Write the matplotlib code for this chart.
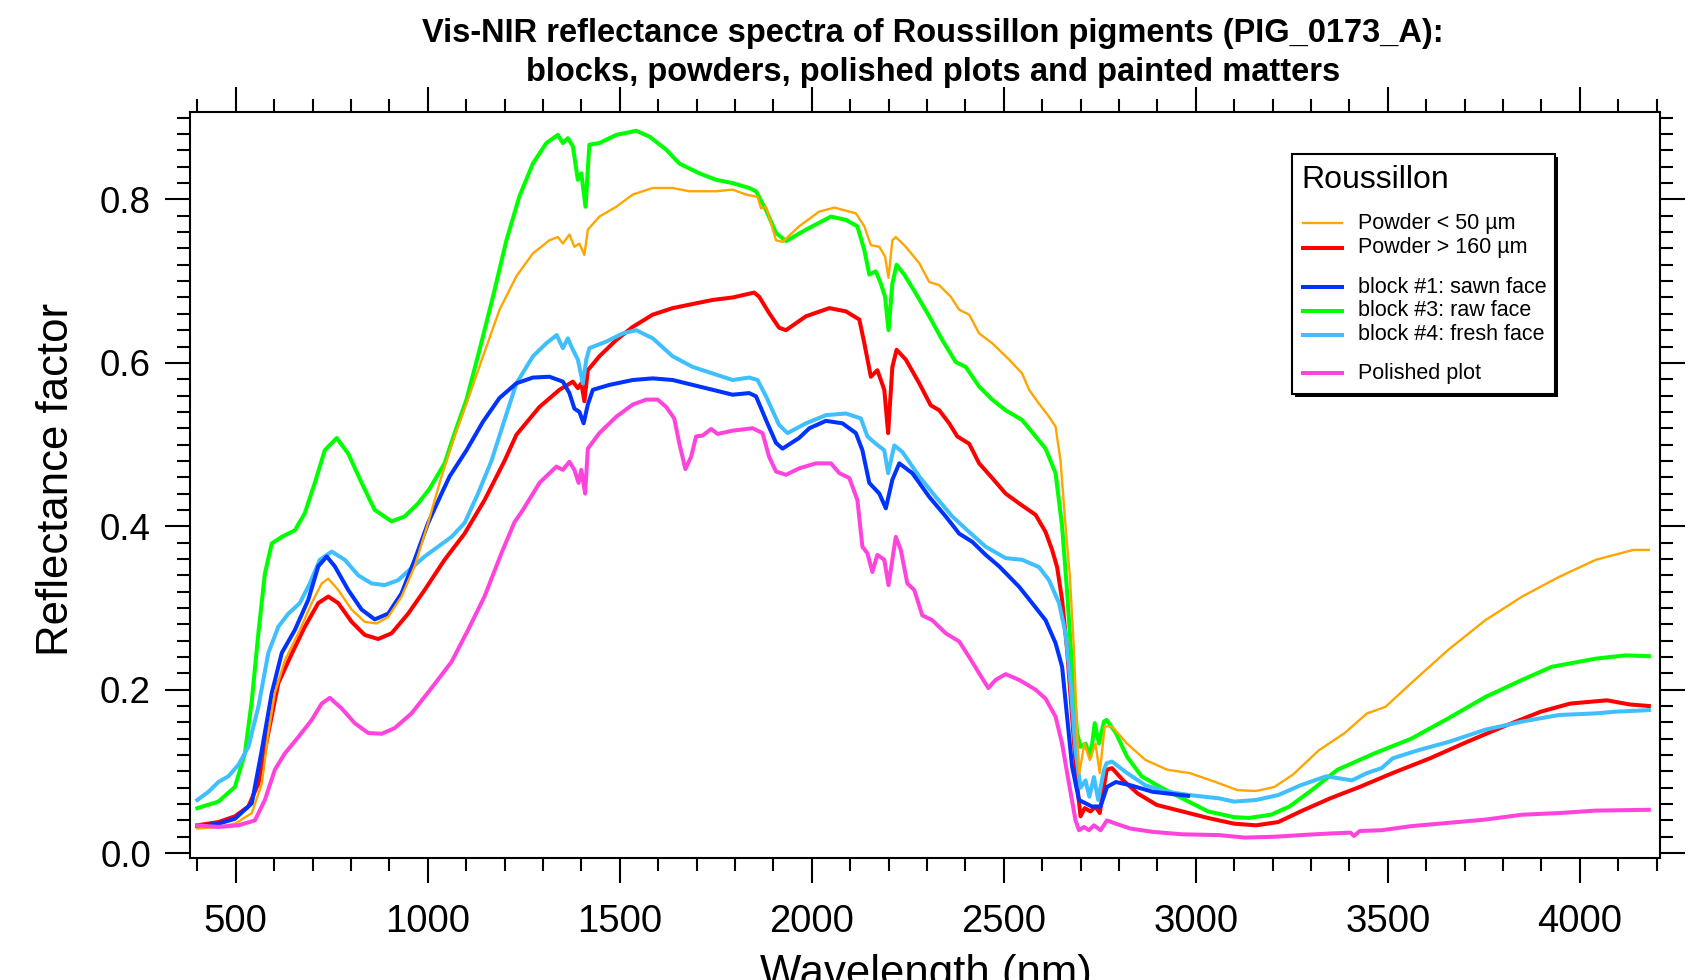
import numpy as np
import matplotlib
matplotlib.use("Agg")
import matplotlib.pyplot as plt
from matplotlib.ticker import MultipleLocator, FormatStrFormatter
from matplotlib.lines import Line2D
from matplotlib.patches import Rectangle

plt.rcParams['font.family'] = ['Liberation Sans', 'DejaVu Sans']

# Powder < 50 um (orange)
wl_p50 = [400, 455, 498, 542, 568, 585, 602, 628, 663, 698, 724, 741, 767, 802, 836, 867, 897, 932, 966,
          1001, 1036, 1070, 1101, 1144, 1187, 1231, 1274, 1317, 1339, 1352, 1369, 1382, 1395, 1408, 1417,
          1447, 1491, 1534, 1586, 1638, 1681, 1751, 1794, 1829, 1859, 1868, 1881, 1894, 1907, 1924, 1967,
          2019, 2059, 2115, 2137, 2154, 2176, 2191, 2200, 2210, 2219, 2245, 2280, 2306, 2332, 2362, 2384,
          2410, 2436, 2470, 2514, 2548, 2566, 2592, 2618, 2635, 2648, 2661, 2672, 2683, 2691, 2697, 2710,
          2724, 2739, 2750, 2763, 2782, 2821, 2869, 2926, 2984, 3052, 3109, 3157, 3205, 3253, 3321, 3388,
          3446, 3494, 3561, 3658, 3754, 3850, 3946, 4042, 4139, 4180]
r_p50 = [0.030, 0.032, 0.036, 0.049, 0.085, 0.147, 0.196, 0.236, 0.269, 0.306, 0.330, 0.336, 0.322, 0.298,
         0.283, 0.281, 0.289, 0.314, 0.351, 0.404, 0.461, 0.510, 0.550, 0.608, 0.665, 0.706, 0.734, 0.750,
         0.754, 0.746, 0.757, 0.742, 0.746, 0.732, 0.763, 0.779, 0.791, 0.806, 0.814, 0.814, 0.810, 0.810,
         0.812, 0.806, 0.803, 0.789, 0.791, 0.771, 0.750, 0.748, 0.767, 0.785, 0.790, 0.783, 0.767, 0.744,
         0.742, 0.730, 0.704, 0.750, 0.754, 0.742, 0.722, 0.699, 0.695, 0.681, 0.665, 0.659, 0.636, 0.624,
         0.604, 0.587, 0.567, 0.550, 0.534, 0.522, 0.480, 0.400, 0.340, 0.249, 0.147, 0.098, 0.134, 0.114,
         0.134, 0.098, 0.155, 0.155, 0.134, 0.114, 0.102, 0.098, 0.087, 0.077, 0.076, 0.081, 0.096, 0.126,
         0.147, 0.171, 0.179, 0.208, 0.249, 0.285, 0.314, 0.338, 0.359, 0.371, 0.371]

# Powder > 160 um (red)
wl_p160 = [400, 455, 498, 533, 559, 585, 611, 646, 680, 715, 741, 767, 802, 836, 871, 906, 949, 992, 1044,
           1096, 1148, 1200, 1231, 1291, 1343, 1378, 1391, 1400, 1408, 1417, 1447, 1491, 1534, 1586, 1638,
           1690, 1742, 1794, 1850, 1863, 1889, 1915, 1933, 1985, 2046, 2089, 2124, 2137, 2154, 2171, 2189,
           2199, 2210, 2221, 2245, 2280, 2310, 2332, 2358, 2379, 2410, 2436, 2470, 2505, 2540, 2583, 2609,
           2626, 2639, 2652, 2665, 2678, 2691, 2700, 2711, 2726, 2739, 2750, 2768, 2782, 2811, 2849, 2898,
           2965, 3032, 3100, 3157, 3215, 3273, 3350, 3427, 3513, 3610, 3706, 3802, 3898, 3975, 4071, 4129,
           4180]
r_p160 = [0.034, 0.038, 0.045, 0.057, 0.085, 0.147, 0.208, 0.244, 0.277, 0.306, 0.314, 0.306, 0.283, 0.267,
          0.262, 0.269, 0.293, 0.322, 0.359, 0.391, 0.432, 0.480, 0.512, 0.546, 0.567, 0.577, 0.569, 0.575,
          0.553, 0.591, 0.608, 0.628, 0.644, 0.659, 0.667, 0.672, 0.677, 0.680, 0.686, 0.681, 0.661, 0.643,
          0.640, 0.657, 0.667, 0.663, 0.653, 0.624, 0.583, 0.591, 0.567, 0.514, 0.595, 0.616, 0.604, 0.575,
          0.548, 0.542, 0.526, 0.510, 0.501, 0.477, 0.459, 0.440, 0.428, 0.414, 0.393, 0.371, 0.350, 0.310,
          0.249, 0.167, 0.085, 0.045, 0.055, 0.051, 0.057, 0.049, 0.102, 0.104, 0.089, 0.073, 0.059, 0.051,
          0.043, 0.036, 0.034, 0.038, 0.051, 0.067, 0.081, 0.098, 0.116, 0.136, 0.155, 0.173, 0.183, 0.187,
          0.182, 0.180]

# block #1: sawn face (blue)
wl_b1 = [400, 455, 498, 542, 568, 594, 620, 654, 689, 715, 737, 758, 793, 828, 862, 897, 932, 966, 1001,
         1036, 1057, 1101, 1144, 1187, 1231, 1274, 1317, 1352, 1369, 1382, 1395, 1406, 1417, 1430, 1473,
         1534, 1586, 1638, 1690, 1742, 1794, 1837, 1855, 1881, 1907, 1924, 1967, 1994, 2037, 2080, 2115,
         2132, 2150, 2176, 2193, 2210, 2228, 2262, 2306, 2349, 2384, 2418, 2453, 2488, 2540, 2574, 2609,
         2635, 2652, 2665, 2678, 2696, 2713, 2730, 2752, 2769, 2792, 2830, 2888, 2926, 2980]
r_b1 = [0.033, 0.036, 0.042, 0.061, 0.126, 0.196, 0.245, 0.273, 0.310, 0.351, 0.363, 0.351, 0.322, 0.298,
        0.286, 0.293, 0.318, 0.359, 0.404, 0.440, 0.461, 0.493, 0.528, 0.557, 0.575, 0.582, 0.583, 0.577,
        0.563, 0.544, 0.540, 0.526, 0.549, 0.567, 0.573, 0.579, 0.581, 0.579, 0.573, 0.567, 0.561, 0.563,
        0.559, 0.530, 0.502, 0.495, 0.508, 0.520, 0.529, 0.526, 0.514, 0.493, 0.453, 0.440, 0.422, 0.457,
        0.477, 0.465, 0.436, 0.412, 0.391, 0.381, 0.365, 0.351, 0.326, 0.306, 0.285, 0.257, 0.228, 0.167,
        0.106, 0.065, 0.061, 0.057, 0.057, 0.081, 0.087, 0.083, 0.075, 0.073, 0.070]

# block #3: raw face (green)
wl_b3 = [400, 455, 498, 524, 542, 559, 576, 594, 620, 654, 680, 706, 732, 763, 793, 828, 862, 906, 940,
         975, 1005, 1044, 1070, 1101, 1135, 1170, 1205, 1239, 1274, 1309, 1339, 1352, 1365, 1378, 1391,
         1400, 1411, 1421, 1447, 1491, 1543, 1577, 1621, 1655, 1707, 1751, 1794, 1837, 1855, 1881, 1907,
         1933, 1985, 2050, 2089, 2119, 2137, 2150, 2167, 2180, 2191, 2200, 2210, 2221, 2241, 2271, 2306,
         2340, 2375, 2401, 2436, 2470, 2505, 2548, 2583, 2609, 2635, 2652, 2665, 2678, 2691, 2700, 2713,
         2726, 2737, 2748, 2761, 2768, 2792, 2821, 2859, 2907, 2965, 3032, 3100, 3138, 3196, 3244, 3302,
         3369, 3465, 3561, 3658, 3754, 3850, 3927, 4042, 4119, 4180]
r_b3 = [0.055, 0.063, 0.081, 0.122, 0.187, 0.269, 0.342, 0.379, 0.387, 0.395, 0.416, 0.453, 0.493, 0.508,
        0.489, 0.453, 0.420, 0.406, 0.412, 0.428, 0.446, 0.477, 0.514, 0.555, 0.616, 0.681, 0.750, 0.804,
        0.844, 0.869, 0.879, 0.869, 0.875, 0.865, 0.824, 0.832, 0.791, 0.867, 0.869, 0.879, 0.884, 0.877,
        0.861, 0.844, 0.832, 0.824, 0.820, 0.814, 0.810, 0.787, 0.759, 0.749, 0.763, 0.779, 0.775, 0.767,
        0.738, 0.708, 0.712, 0.697, 0.681, 0.640, 0.697, 0.720, 0.708, 0.685, 0.657, 0.628, 0.601, 0.595,
        0.571, 0.555, 0.542, 0.530, 0.510, 0.495, 0.465, 0.400, 0.320, 0.228, 0.147, 0.130, 0.134, 0.118,
        0.159, 0.134, 0.161, 0.163, 0.147, 0.118, 0.094, 0.081, 0.067, 0.051, 0.044, 0.043, 0.047, 0.057,
        0.077, 0.102, 0.122, 0.140, 0.165, 0.191, 0.212, 0.228, 0.238, 0.242, 0.241]

# block #4: fresh face (light blue)
wl_b4 = [400, 429, 455, 481, 507, 533, 559, 585, 611, 637, 667, 693, 719, 750, 784, 819, 854, 888, 923,
         958, 992, 1027, 1062, 1096, 1131, 1166, 1200, 1231, 1274, 1309, 1336, 1352, 1365, 1378, 1391,
         1404, 1413, 1421, 1465, 1508, 1543, 1586, 1638, 1690, 1742, 1794, 1837, 1859, 1881, 1915, 1937,
         1985, 2037, 2089, 2128, 2145, 2167, 2189, 2199, 2215, 2236, 2280, 2323, 2366, 2410, 2453, 2505,
         2548, 2592, 2618, 2644, 2661, 2674, 2687, 2700, 2713, 2723, 2735, 2746, 2761, 2768, 2782, 2821,
         2869, 2926, 2984, 3061, 3100, 3157, 3215, 3273, 3340, 3407, 3446, 3484, 3513, 3580, 3658, 3754,
         3850, 3946, 4042, 4091, 4180]
r_b4 = [0.065, 0.075, 0.087, 0.094, 0.108, 0.130, 0.179, 0.245, 0.277, 0.293, 0.306, 0.330, 0.359, 0.369,
        0.359, 0.340, 0.330, 0.328, 0.334, 0.349, 0.363, 0.375, 0.387, 0.404, 0.440, 0.480, 0.530, 0.575,
        0.608, 0.624, 0.634, 0.618, 0.630, 0.616, 0.604, 0.575, 0.604, 0.618, 0.626, 0.636, 0.640, 0.630,
        0.608, 0.595, 0.587, 0.579, 0.582, 0.579, 0.559, 0.524, 0.514, 0.526, 0.536, 0.538, 0.532, 0.510,
        0.501, 0.493, 0.465, 0.499, 0.491, 0.461, 0.436, 0.412, 0.393, 0.375, 0.361, 0.359, 0.350, 0.334,
        0.306, 0.269, 0.208, 0.126, 0.080, 0.089, 0.069, 0.093, 0.065, 0.102, 0.110, 0.112, 0.098, 0.083,
        0.075, 0.071, 0.067, 0.063, 0.065, 0.071, 0.083, 0.094, 0.089, 0.098, 0.104, 0.116, 0.126, 0.136,
        0.151, 0.161, 0.169, 0.171, 0.173, 0.175]

# Polished plot (pink)
wl_pol = [400, 455, 507, 550, 576, 602, 628, 663, 698, 724, 745, 776, 810, 845, 880, 914, 958, 1010, 1062,
          1105, 1148, 1192, 1226, 1248, 1291, 1335, 1352, 1369, 1382, 1393, 1400, 1410, 1417, 1447, 1491,
          1534, 1569, 1599, 1621, 1642, 1655, 1671, 1686, 1699, 1716, 1738, 1755, 1794, 1846, 1872, 1889,
          1907, 1933, 1968, 2011, 2050, 2072, 2098, 2119, 2132, 2145, 2158, 2171, 2189, 2200, 2219, 2232,
          2249, 2267, 2288, 2314, 2349, 2384, 2410, 2436, 2460, 2479, 2505, 2540, 2583, 2609, 2635, 2652,
          2670, 2687, 2696, 2709, 2722, 2735, 2752, 2769, 2792, 2830, 2888, 2965, 3061, 3128, 3205, 3273,
          3350, 3403, 3412, 3427, 3484, 3561, 3658, 3754, 3850, 3946, 4042, 4180]
r_pol = [0.034, 0.032, 0.034, 0.040, 0.065, 0.102, 0.122, 0.142, 0.163, 0.183, 0.190, 0.177, 0.159, 0.147,
         0.146, 0.153, 0.171, 0.202, 0.234, 0.273, 0.314, 0.367, 0.405, 0.420, 0.453, 0.473, 0.469, 0.479,
         0.469, 0.453, 0.469, 0.440, 0.495, 0.514, 0.534, 0.549, 0.555, 0.555, 0.546, 0.532, 0.502, 0.470,
         0.485, 0.510, 0.511, 0.519, 0.513, 0.517, 0.520, 0.514, 0.485, 0.467, 0.463, 0.471, 0.477, 0.477,
         0.465, 0.459, 0.432, 0.375, 0.367, 0.344, 0.365, 0.359, 0.328, 0.387, 0.371, 0.330, 0.322, 0.291,
         0.285, 0.269, 0.259, 0.240, 0.220, 0.202, 0.212, 0.219, 0.212, 0.200, 0.189, 0.167, 0.134, 0.085,
         0.040, 0.028, 0.032, 0.028, 0.034, 0.028, 0.040, 0.036, 0.030, 0.026, 0.023, 0.022, 0.019, 0.020,
         0.022, 0.024, 0.025, 0.021, 0.027, 0.028, 0.033, 0.037, 0.041, 0.047, 0.049, 0.052, 0.053]

# label, wavelengths, values, colour, width (drawing order)
series = [
    ("block #3: raw face", wl_b3, r_b3, "#00FF00", 2.9),
    ("Powder > 160 µm", wl_p160, r_p160, "#FF0000", 2.9),
    ("block #4: fresh face", wl_b4, r_b4, "#40BFFF", 2.9),
    ("block #1: sawn face", wl_b1, r_b1, "#0033FF", 2.9),
    ("Powder < 50 µm", wl_p50, r_p50, "#FFA500", 1.7),
    ("Polished plot", wl_pol, r_pol, "#FF44DD", 2.9),
]
legend_order = ["Powder < 50 µm", "Powder > 160 µm", "block #1: sawn face",
                "block #3: raw face", "block #4: fresh face", "Polished plot"]

W, H = 1691, 980
fig = plt.figure(figsize=(W / 100, H / 100), dpi=100)
ax = fig.add_axes([190 / W, 1 - 858 / H, 1470 / W, 746 / H])

style = {}
for label, wl, r, col, lw in series:
    ax.plot(wl, r, color=col, lw=lw, solid_joinstyle='round')
    style[label] = (col, lw)

ax.set_xlim(381, 4209)
ax.set_ylim(-0.006, 0.907)

ax.xaxis.set_major_locator(MultipleLocator(500))
ax.xaxis.set_minor_locator(MultipleLocator(100))
ax.yaxis.set_major_locator(MultipleLocator(0.2))
ax.yaxis.set_minor_locator(MultipleLocator(0.02))
ax.yaxis.set_major_formatter(FormatStrFormatter('%.1f'))

ax.tick_params(which='both', direction='out', top=True, right=True, width=1.5)
ax.tick_params(which='major', length=18)
ax.tick_params(which='minor', length=9.5)
ax.tick_params(axis='x', which='major', pad=15, labelsize=27.5)
ax.tick_params(axis='y', which='major', pad=10, labelsize=26.5)
for sp in ax.spines.values():
    sp.set_linewidth(1.5)

# Axis labels (the x label is partly cut by the figure edge, as in the original)
fig.text(57 / W, 1 - 479 / H, "Reflectance factor", rotation=90, ha='center', va='center', fontsize=31.5)
fig.text(926 / W, 1 - 986 / H, "Wavelength (nm)", ha='center', va='baseline', fontsize=31.5)

# Title
fig.text(933 / W, 1 - 53 / H,
         "Vis-NIR reflectance spectra of Roussillon pigments (PIG_0173_A):\n"
         "blocks, powders, polished plots and painted matters",
         ha='center', va='center', fontsize=23.5, fontweight='bold', linespacing=1.32)

# Legend box with drop shadow
def fx(px):
    return px / W

def fy(py):
    return 1 - py / H

fig.add_artist(Rectangle((fx(1295), fy(397)), (1558 - 1295) / W, (397 - 157) / H,
                         transform=fig.transFigure, facecolor='black', edgecolor='none', zorder=5))
fig.add_artist(Rectangle((fx(1292), fy(394)), (1555 - 1292) / W, (394 - 154) / H,
                         transform=fig.transFigure, facecolor='white', edgecolor='black', lw=1.5, zorder=6))
fig.text(fx(1301), fy(180), "Roussillon", ha='left', va='center', fontsize=23, zorder=7)
entry_y = [223, 248, 287, 311, 335, 373]
for label, py in zip(legend_order, entry_y):
    col, lw = style[label]
    fig.add_artist(Line2D([fx(1303), fx(1342)], [fy(py), fy(py)], transform=fig.transFigure,
                          color=col, lw=lw, zorder=7))
    fig.text(fx(1358), fy(py), label, ha='left', va='center', fontsize=15.5, zorder=7)

fig.savefig("out.png", dpi=100)
